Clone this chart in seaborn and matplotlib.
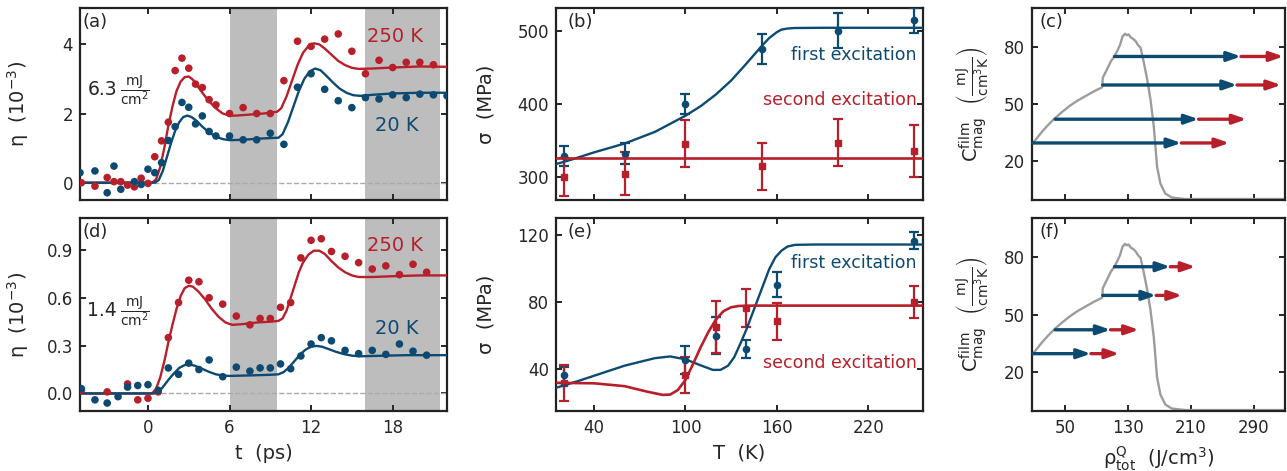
import matplotlib
matplotlib.use("Agg")
import matplotlib.pyplot as plt
import seaborn as sns

BLUE = "#0d4a72"
RED = "#b71f2a"
SHADE = "#bdbdbd"
GRAY = "#9c9c9c"

# ---- (a) 6.3 mJ/cm2, eta vs t
t_a_hot = [-4.9, -3.9, -3.0, -2.5, -2.0, -1.5, -1.0, -0.5, 0, 0.5, 1.0, 1.5, 2.0, 2.5, 3.0, 3.5, 4.0, 4.5, 5.0,
           6, 7, 8, 9, 10, 11, 12, 13, 14, 15, 16, 17, 18, 19, 20, 21]
eta_a_hot = [0, -0.1, 0.15, 0.03, 0.03, -0.07, -0.12, 0.13, -0.02, 0.75, 1.21, 1.75, 3.24, 3.6, 3.31, 2.85, 2.75,
             2.4, 2.25, 2.0, 2.17, 2.0, 2.0, 2.95, 4.09, 3.94, 4.15, 4.3, 3.8, 3.15, 3.54, 3.33, 3.48, 3.48, 3.41]
t_a_cold = [-5.0, -3.9, -3.0, -2.5, -2.0, -1.0, -0.5, 0, 0.5, 1.0, 1.5, 2.0, 2.5, 3.0, 3.5, 4.0, 4.5, 5.0,
            6, 7, 8, 9, 10, 11, 12, 13, 14, 15, 16, 17, 18, 19, 20, 21, 22]
eta_a_cold = [0.29, 0.34, -0.29, 0.48, -0.19, 0.03, -0.05, 0.39, 0.29, 0.58, 1.22, 1.62, 2.32, 2.18, 1.70, 1.93,
              1.48, 1.35, 1.35, 1.24, 1.24, 1.43, 1.11, 2.76, 3.15, 2.70, 2.37, 2.17, 2.46, 2.42, 2.54, 2.46, 2.56,
              2.54, 2.51]
fit_t_a_hot = [-5, 0.3, 0.6, 0.9, 1.2, 1.5, 1.8, 2.1, 2.4, 2.7, 3.0, 3.3, 3.6, 4.0, 4.5, 5.0, 5.5, 6.0, 6.5, 7.5,
               8.5, 9.5, 9.8, 10.2, 10.6, 11.0, 11.4, 11.8, 12.2, 12.6, 13.0, 13.5, 14.0, 14.5, 15.0, 15.5, 16.5,
               18, 20, 22]
fit_a_hot = [0, 0, 0.1, 0.45, 1.0, 1.65, 2.2, 2.65, 2.92, 3.05, 3.07, 2.98, 2.82, 2.6, 2.35, 2.15, 2.0, 1.94, 1.94,
             1.97, 2.0, 2.05, 2.15, 2.5, 2.95, 3.4, 3.75, 3.95, 4.03, 4.0, 3.88, 3.7, 3.52, 3.4, 3.32, 3.29, 3.3,
             3.33, 3.36, 3.35]
fit_t_a_cold = [-5, 0.5, 0.8, 1.1, 1.4, 1.7, 2.0, 2.3, 2.6, 2.9, 3.2, 3.6, 4.0, 4.5, 5.0, 5.5, 6.0, 7, 8, 9, 9.6,
                9.9, 10.3, 10.7, 11.1, 11.5, 11.9, 12.3, 12.7, 13.1, 13.6, 14.1, 14.6, 15.1, 15.6, 16.5, 18, 20, 22]
fit_a_cold = [0, 0, 0.08, 0.35, 0.75, 1.15, 1.5, 1.75, 1.9, 1.94, 1.9, 1.78, 1.62, 1.45, 1.33, 1.26, 1.23, 1.24,
              1.27, 1.29, 1.3, 1.4, 1.75, 2.2, 2.65, 3.0, 3.22, 3.3, 3.25, 3.1, 2.9, 2.72, 2.6, 2.53, 2.51, 2.54,
              2.58, 2.6, 2.6]

# ---- (d) 1.4 mJ/cm2
t_d_hot = [-4.9, -3.0, -1.5, -0.75, 0, 0.75, 1.5, 2.25, 3.0, 3.75, 4.5, 5.5, 6.5, 7.5, 8.25, 9.0, 9.75, 10.5,
           11.25, 12.0, 12.75, 13.5, 14.5, 15.5, 16.5, 17.5, 18.5, 19.5, 20.5]
eta_d_hot = [0.02, 0.01, 0.06, -0.04, -0.03, 0.01, 0.35, 0.57, 0.71, 0.70, 0.60, 0.56, 0.485, 0.43, 0.47, 0.47,
             0.54, 0.57, 0.85, 0.96, 0.97, 0.89, 0.86, 0.82, 0.78, 0.80, 0.745, 0.81, 0.76]
t_d_cold = [-4.9, -3.9, -3.0, -2.2, -1.5, -0.75, 0, 0.75, 1.5, 2.25, 3.0, 3.75, 4.5, 5.5, 6.5, 7.5, 8.25, 9.0,
            9.75, 10.5, 11.25, 12.0, 12.75, 13.5, 14.5, 15.5, 16.5, 17.5, 18.5, 19.5, 20.5]
eta_d_cold = [0.03, -0.04, -0.06, -0.02, 0.04, 0.05, 0.055, 0.02, 0.16, 0.12, 0.19, 0.15, 0.21, 0.105, 0.165,
              0.14, 0.16, 0.16, 0.185, 0.155, 0.235, 0.31, 0.35, 0.33, 0.27, 0.25, 0.27, 0.245, 0.31, 0.265, 0.24]
fit_t_d_hot = [-5, 0.3, 0.6, 0.9, 1.2, 1.5, 1.8, 2.1, 2.4, 2.7, 3.0, 3.3, 3.7, 4.2, 4.7, 5.2, 5.7, 6.2, 7, 8, 9,
               9.6, 9.9, 10.2, 10.5, 10.8, 11.1, 11.4, 11.8, 12.2, 12.6, 13.0, 13.5, 14.0, 14.5, 15.0, 15.5, 16.5,
               18, 20, 22]
fit_d_hot = [0, 0, 0.03, 0.1, 0.2, 0.32, 0.43, 0.53, 0.61, 0.66, 0.675, 0.67, 0.64, 0.59, 0.53, 0.48, 0.445, 0.43,
             0.435, 0.445, 0.45, 0.455, 0.47, 0.52, 0.6, 0.68, 0.76, 0.82, 0.87, 0.895, 0.895, 0.875, 0.83, 0.79,
             0.76, 0.74, 0.73, 0.73, 0.735, 0.74, 0.74]
fit_t_d_cold = [-5, 0.5, 0.8, 1.1, 1.5, 1.9, 2.3, 2.7, 3.0, 3.4, 3.9, 4.5, 5.0, 5.5, 6.0, 7.5, 9, 9.6, 10.0, 10.4,
                10.8, 11.2, 11.6, 12.0, 12.4, 12.8, 13.3, 13.8, 14.4, 15.0, 15.6, 17, 19, 22]
fit_d_cold = [0, 0, 0.01, 0.04, 0.085, 0.125, 0.16, 0.178, 0.182, 0.175, 0.158, 0.135, 0.12, 0.112, 0.11, 0.113,
              0.117, 0.12, 0.135, 0.165, 0.205, 0.245, 0.275, 0.293, 0.298, 0.293, 0.278, 0.262, 0.247, 0.237,
              0.233, 0.236, 0.24, 0.24]

# ---- (b) sigma vs T, high fluence
T_b = [20, 60, 100, 150, 200, 250]
sig_b_first = [329, 332, 400, 475, 500, 514]
err_b_first = [14, 14.5, 14, 20, 23.5, 17]
sig_b_second = [300, 305, 346, 315, 347, 336]
err_b_second = [26, 29, 31.5, 32, 32, 35]
fit_T_b = [15, 25, 40, 60, 80, 100, 110, 120, 130, 140, 145, 150, 155, 160, 163, 167, 172, 190, 256]
fit_b_first = [318, 324, 334, 346, 362, 384, 397, 413, 432, 455, 467, 479, 490, 498, 501.5, 503, 503.7, 504, 504]
fit_T_b2 = [15, 256]
fit_b_second = [326.5, 326.5]

# ---- (e) sigma vs T, low fluence
T_e = [20, 100, 120, 140, 160, 250]
sig_e_first = [36.4, 45.4, 59.8, 51.8, 90.2, 116.4]
err_e_first = [5, 8.5, 11, 5.5, 7.4, 5]
sig_e_second = [31.8, 36.4, 64.8, 76.2, 68.4, 80.2]
err_e_second = [10.6, 10.7, 15.5, 11.2, 11, 9.5]
fit_T_e1 = [15, 30, 40, 60, 80, 90, 100, 110, 118, 123, 128, 132, 136, 140, 145, 150, 155, 159, 163, 167, 172,
            185, 256]
fit_e_first = [28.8, 33, 36, 42, 46.5, 47.5, 45.8, 42.2, 39.5, 39.5, 42, 47, 55, 63.5, 75.5, 87.5, 99.5, 106.5,
               110.5, 113, 114, 114.2, 114.2]
fit_T_e2 = [15, 40, 60, 75, 85, 90, 95, 100, 105, 110, 115, 120, 125, 130, 135, 145, 256]
fit_e_second = [31.8, 31.5, 29.8, 26.5, 24.6, 24.8, 27.5, 33.5, 43, 53, 62, 69.5, 74.5, 76.8, 77.6, 77.8, 77.8]

# ---- (c)/(f) magnetic heat capacity vs deposited energy
rho = [8, 15, 22.8, 30, 37.4, 46, 56.3, 66, 77.2, 87, 97.3, 98.1, 102.3, 108.6, 112, 116, 120, 123.2, 126.5,
       128.5, 131, 133.7, 137, 140, 143, 146.2, 150.4, 154.6, 158.8, 163.0, 165.1, 167.2, 171.4, 177.6, 186,
       202.7, 330]
c_mag = [28.8, 32.5, 36.4, 39.6, 42.6, 45.7, 49.1, 51.8, 54.4, 56.7, 58.8, 63.8, 67.3, 72.6, 74.5, 77.5, 81, 85.5,
         87, 86.2, 86.6, 85.0, 84.2, 83.0, 81, 79.6, 71.7, 62.9, 52.3, 38.2, 27.6, 17, 8.2, 2.9, 0.8, 0, 0]
arrow_c = [75, 60, 42, 29.5]
arrow_start = [113, 98, 37.5, 9]
arrow_c_blue = [274, 269, 220, 198]
arrow_c_red = [328, 325, 281, 259]
arrow_f_blue = [184, 166, 108, 83]
arrow_f_red = [216, 199, 144, 119]

sns.set_style("ticks")
plt.rcParams.update({
    "font.family": ["DejaVu Sans"],
    "mathtext.default": "regular",
    "xtick.direction": "in", "ytick.direction": "in",
    "xtick.top": True, "ytick.right": True,
    "xtick.major.size": 4, "ytick.major.size": 4,
    "xtick.major.width": 1.4, "ytick.major.width": 1.4,
    "xtick.major.pad": 6, "ytick.major.pad": 5,
    "axes.linewidth": 1.6, "axes.edgecolor": "#222222",
    "xtick.labelsize": 12, "ytick.labelsize": 12,
    "axes.labelsize": 14,
})

fig = plt.figure(figsize=(12.87, 4.71), dpi=100)
W, H = 1287, 471


def box(l, t, r, b):
    return [l / W, 1 - b / H, (r - l) / W, (b - t) / H]


ax_a = fig.add_axes(box(80, 8, 447, 200))
ax_d = fig.add_axes(box(80, 218, 447, 411))
ax_b = fig.add_axes(box(556, 8, 923, 200))
ax_e = fig.add_axes(box(556, 218, 923, 411))
ax_c = fig.add_axes(box(1032, 8, 1285, 200))
ax_f = fig.add_axes(box(1032, 218, 1285, 411))


def eta_panel(ax, th, eh, tc, ec, fth, fh, ftc, fc, fluence, ylim, yticks, fmt, lab_pos):
    ax.axvspan(6, 9.5, color=SHADE, lw=0, zorder=0)
    ax.axvspan(16, 21.5, color=SHADE, lw=0, zorder=0)
    ax.axhline(0, color="#aaaaaa", lw=1, ls="--", zorder=1)
    sns.lineplot(x=fth, y=fh, ax=ax, color=RED, lw=1.7, sort=False, estimator=None, zorder=3)
    sns.lineplot(x=ftc, y=fc, ax=ax, color=BLUE, lw=1.7, sort=False, estimator=None, zorder=3)
    sns.scatterplot(x=th, y=eh, ax=ax, color=RED, s=30, edgecolor="none", zorder=4)
    sns.scatterplot(x=tc, y=ec, ax=ax, color=BLUE, s=30, edgecolor="none", zorder=4)
    ax.set_xlim(-5, 22)
    ax.set_ylim(*ylim)
    ax.set_xticks([0, 6, 12, 18])
    ax.set_yticks(yticks)
    ax.set_yticklabels([fmt.format(v) for v in yticks])
    ax.set_ylabel("η  (10$^{-3}$)")
    ax.yaxis.set_label_coords(-0.134, 0.5)
    ax.text(0.935, lab_pos[0], "250 K", color=RED, fontsize=14, ha="right", va="center", transform=ax.transAxes)
    ax.text(0.921, lab_pos[1], "20 K", color=BLUE, fontsize=14, ha="right", va="center", transform=ax.transAxes)
    ax.text(0.02, lab_pos[2], fluence, fontsize=13.5, ha="left", va="center", transform=ax.transAxes)
    ax.text(0.109, lab_pos[2], r"$\dfrac{mJ}{cm^2}$", fontsize=10, ha="left", va="center",
            transform=ax.transAxes)


eta_panel(ax_a, t_a_hot, eta_a_hot, t_a_cold, eta_a_cold, fit_t_a_hot, fit_a_hot, fit_t_a_cold, fit_a_cold,
          "6.3", (-0.5, 5.05), [0, 2, 4], "{:g}", (0.85, 0.39, 0.575))
eta_panel(ax_d, t_d_hot, eta_d_hot, t_d_cold, eta_d_cold, fit_t_d_hot, fit_d_hot, fit_t_d_cold, fit_d_cold,
          "1.4", (-0.11, 1.1), [0, 0.3, 0.6, 0.9], "{:.1f}", (0.86, 0.43, 0.52))
ax_a.set_xticklabels([])
ax_a.set_xlabel("")
ax_d.set_xlabel("t  (ps)")
ax_d.xaxis.set_label_coords(0.5, -0.172)


def sigma_panel(ax, T, s1, e1, s2, e2, fT1, f1, fT2, f2, ylim, yticks, lab_pos):
    ax.errorbar(T, s1, yerr=e1, fmt="o", ms=4.5, color=BLUE, capsize=3.5, elinewidth=1.6, capthick=1.6, zorder=3)
    ax.errorbar(T, s2, yerr=e2, fmt="s", ms=5, color=RED, capsize=3.5, elinewidth=1.6, capthick=1.6, zorder=3)
    sns.lineplot(x=fT1, y=f1, ax=ax, color=BLUE, lw=1.7, sort=False, estimator=None, zorder=4)
    sns.lineplot(x=fT2, y=f2, ax=ax, color=RED, lw=1.9, sort=False, estimator=None, zorder=4)
    ax.set_xlim(15, 256)
    ax.set_ylim(*ylim)
    ax.set_xticks([40, 100, 160, 220])
    ax.set_yticks(yticks)
    ax.set_ylabel("σ  (MPa)")
    ax.yaxis.set_label_coords(-0.166, 0.5)
    ax.text(0.983, lab_pos[0], "first excitation", color=BLUE, fontsize=12.5, ha="right", va="center",
            transform=ax.transAxes)
    ax.text(0.983, lab_pos[1], "second excitation", color=RED, fontsize=12.5, ha="right", va="center",
            transform=ax.transAxes)


sigma_panel(ax_b, T_b, sig_b_first, err_b_first, sig_b_second, err_b_second, fit_T_b, fit_b_first,
            fit_T_b2, fit_b_second, (269, 531), [300, 400, 500], (0.755, 0.52))
sigma_panel(ax_e, T_e, sig_e_first, err_e_first, sig_e_second, err_e_second, fit_T_e1, fit_e_first,
            fit_T_e2, fit_e_second, (15, 130), [40, 80, 120], (0.765, 0.247))
ax_b.set_xticklabels([])
ax_b.set_xlabel("")
ax_e.set_xlabel("T  (K)")
ax_e.xaxis.set_label_coords(0.5, -0.166)


def cap_panel(ax, blue_end, red_end):
    sns.lineplot(x=rho, y=c_mag, ax=ax, color=GRAY, lw=1.7, sort=False, estimator=None, zorder=2)
    style = "-|>,head_length=0.8,head_width=0.28"
    for y, x0, xb, xr in zip(arrow_c, arrow_start, blue_end, red_end):
        ax.annotate("", xy=(xr, y), xytext=(xb, y), annotation_clip=False, zorder=3,
                    arrowprops=dict(arrowstyle=style, color=RED, lw=2.4, mutation_scale=10,
                                    shrinkA=0, shrinkB=0))
        ax.annotate("", xy=(xb, y), xytext=(x0, y), annotation_clip=False, zorder=4,
                    arrowprops=dict(arrowstyle=style, color=BLUE, lw=2.4, mutation_scale=10,
                                    shrinkA=0, shrinkB=0))
    ax.set_xlim(8, 330)
    ax.set_ylim(-0.5, 100.5)
    ax.set_xticks([50, 130, 210, 290])
    ax.set_yticks([20, 50, 80])
    ax.set_ylabel(r"C$^{film}_{mag}$  $\left(\frac{mJ}{cm^3K}\right)$")
    ax.yaxis.set_label_coords(-0.166, 0.5)


cap_panel(ax_c, arrow_c_blue, arrow_c_red)
cap_panel(ax_f, arrow_f_blue, arrow_f_red)
ax_c.set_xticklabels([])
ax_c.set_xlabel("")
ax_f.set_xlabel(r"ρ$^{Q}_{tot}$  (J/cm$^3$)")
ax_f.xaxis.set_label_coords(0.5, -0.172)

for ax, lab in zip([ax_a, ax_b, ax_c, ax_d, ax_e, ax_f], "abcdef"):
    x0 = 0.008 if lab in "ad" else 0.03
    ax.text(x0, 0.975, "(" + lab + ")", fontsize=13, ha="left", va="top", transform=ax.transAxes)

fig.savefig("out.png", dpi=100)
